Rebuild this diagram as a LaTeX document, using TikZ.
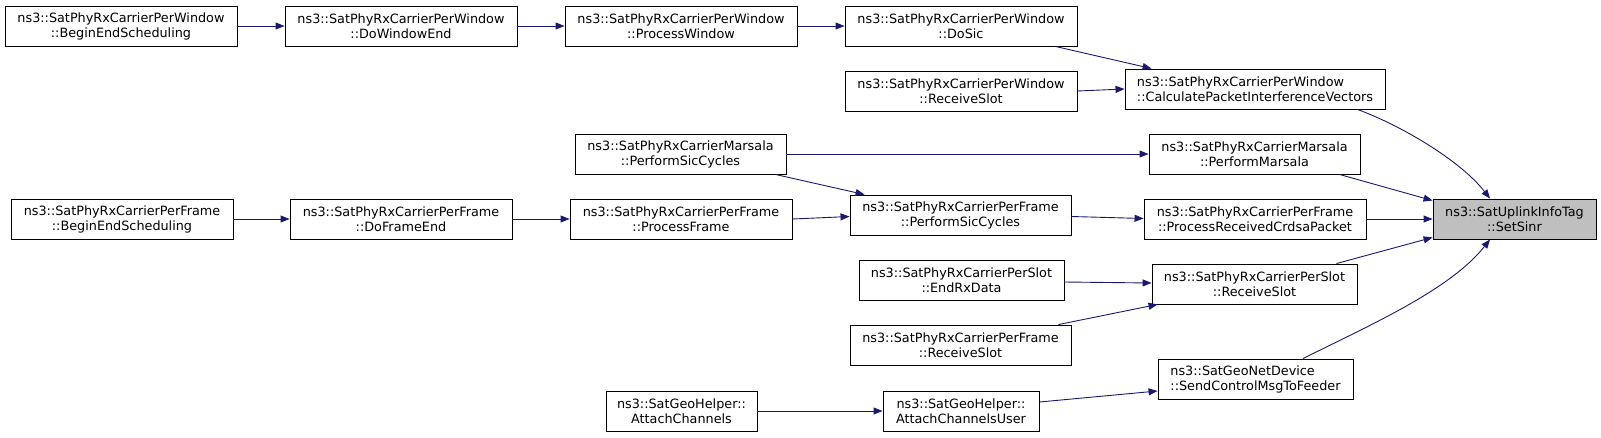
\documentclass[tikz,border=0pt]{standalone}
\usepackage{fontspec}
\setmainfont{DejaVu Sans}
\usetikzlibrary{arrows.meta}
\definecolor{edgeblue}{RGB}{25,25,112}
\definecolor{hlgray}{RGB}{191,191,191}
\begin{document}
\begin{tikzpicture}[x=1pt,y=-1pt,
  fn/.style={draw=black,line width=0.9pt,inner sep=0pt,minimum height=40pt,align=center,
    font=\fontsize{12.8}{15}\selectfont},
  fnl/.style={fn,align=left},
  call/.style={draw=edgeblue,line width=0.9pt,-{Triangle[length=9pt,width=7pt]},edgeblue}]
\useasboundingbox (0,0) rectangle (1601,437);
% nodes
\node[fn,minimum width=232pt] (wbeg) at (121,26) {ns3::SatPhyRxCarrierPerWindow\\::BeginEndScheduling};
\node[fn,minimum width=232pt] (wend) at (401,26) {ns3::SatPhyRxCarrierPerWindow\\::DoWindowEnd};
\node[fn,minimum width=232pt] (wproc) at (681,26) {ns3::SatPhyRxCarrierPerWindow\\::ProcessWindow};
\node[fn,minimum width=232pt] (wsic) at (961,26) {ns3::SatPhyRxCarrierPerWindow\\::DoSic};
\node[fn,minimum width=232pt] (wrecv) at (961,91) {ns3::SatPhyRxCarrierPerWindow\\::ReceiveSlot};
\node[fnl,minimum width=260pt] (wcalc) at (1255,89) {ns3::SatPhyRxCarrierPerWindow\\::CalculatePacketInterferenceVectors};
\node[fn,minimum width=211pt] (mpsc) at (680.5,154) {ns3::SatPhyRxCarrierMarsala\\::PerformSicCycles};
\node[fn,minimum width=211pt] (mper) at (1254.5,154) {ns3::SatPhyRxCarrierMarsala\\::PerformMarsala};
\node[fn,minimum width=222pt] (fbeg) at (122,219) {ns3::SatPhyRxCarrierPerFrame\\::BeginEndScheduling};
\node[fn,minimum width=222pt] (fend) at (401,219) {ns3::SatPhyRxCarrierPerFrame\\::DoFrameEnd};
\node[fn,minimum width=222pt] (fproc) at (681,219) {ns3::SatPhyRxCarrierPerFrame\\::ProcessFrame};
\node[fn,minimum width=221pt] (fpsc) at (960.5,215) {ns3::SatPhyRxCarrierPerFrame\\::PerformSicCycles};
\node[fn,minimum width=222pt] (fcrd) at (1255,219) {ns3::SatPhyRxCarrierPerFrame\\::ProcessReceivedCrdsaPacket};
\node[fn,minimum width=163pt,fill=hlgray] (sinr) at (1514.5,219) {ns3::SatUplinkInfoTag\\::SetSinr};
\node[fn,minimum width=205pt] (srx) at (961.5,280) {ns3::SatPhyRxCarrierPerSlot\\::EndRxData};
\node[fn,minimum width=205pt] (sslot) at (1254.5,284) {ns3::SatPhyRxCarrierPerSlot\\::ReceiveSlot};
\node[fn,minimum width=221pt] (frecv) at (960.5,345) {ns3::SatPhyRxCarrierPerFrame\\::ReceiveSlot};
\node[fnl,minimum width=195pt] (gsend) at (1255.5,379) {ns3::SatGeoNetDevice\\::SendControlMsgToFeeder};
\node[fn,minimum width=156pt] (gacu) at (961,411) {ns3::SatGeoHelper::\\AttachChannelsUser};
\node[fn,minimum width=151pt] (gac) at (681.5,411) {ns3::SatGeoHelper::\\AttachChannels};
% edges
\draw[call] (wbeg) -- (wend);
\draw[call] (wend) -- (wproc);
\draw[call] (wproc) -- (wsic);
\draw[call] ([xshift=-22pt]wsic.south east) -- ([xshift=27pt]wcalc.north west);
\draw[call] (wrecv.east) -- (wcalc.west);
\draw[call] ([xshift=-28pt]wcalc.south east) .. controls (1400,125) and (1460,160) .. ([xshift=-24.5pt]sinr.north);
\draw[call] (mpsc.east) -- (mper.west);
\draw[call] ([xshift=-11pt]mpsc.south east) -- ([xshift=15pt]fpsc.north west);
\draw[call] (fbeg) -- (fend);
\draw[call] (fend) -- (fproc);
\draw[call] (fproc.east) -- ([yshift=-1.5pt]fpsc.west);
\draw[call] ([yshift=-1.5pt]fpsc.east) -- ([yshift=0.5pt]fcrd.west);
\draw[call] (fcrd) -- (sinr);
\draw[call] ([xshift=-21pt]mper.south east) -- ([yshift=-2pt]sinr.north west);
\draw[call] ([xshift=-21pt]sslot.north east) -- ([yshift=2pt]sinr.south west);
\draw[call] ([yshift=-2pt]srx.east) -- ([yshift=1pt]sslot.west);
\draw[call] ([xshift=-13pt]frecv.north east) -- ([xshift=6pt]sslot.south west);
\draw[call] ([xshift=47.5pt]gsend.north) .. controls (1370,325) and (1450,290) .. ([xshift=-24.5pt]sinr.south);
\draw[call] ([yshift=9pt]gacu.east) -- ([yshift=-12pt]gsend.west);
\draw[call] (gac) -- (gacu);
\end{tikzpicture}
\end{document}
